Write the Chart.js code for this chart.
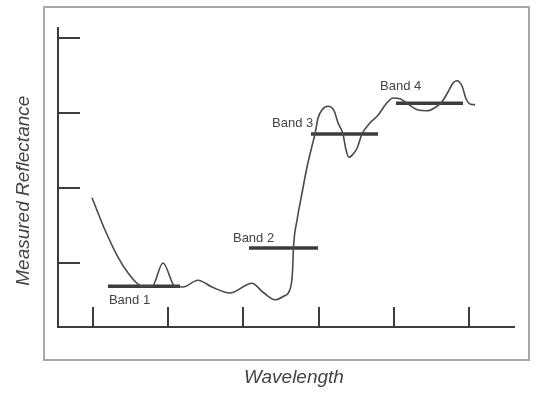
<!DOCTYPE html>
<html>
<head>
<meta charset="utf-8">
<script src="https://cdn.jsdelivr.net/npm/chart.js@4"></script>
<style>
  html, body { margin: 0; padding: 0; background: #fff; }
</style>
</head>
<body>
<canvas id="reflectanceChart" width="537" height="393"></canvas>
<script>
// Spectral curve (wavelength, reflectance)
const curveX = [98.7, 116.0, 133.2, 146.5, 158.5, 165.2, 178.5, 193.1, 209.0, 219.7,
    239.6, 258.2, 282.2, 311.4, 326.1, 342.0, 354.0, 362.0, 365.3, 366.6,
    371.3, 377.9, 384.6, 391.2, 395.2, 399.2, 404.5, 412.5, 420.5, 425.8,
    432.4, 436.4, 440.4, 445.7, 451.1, 457.7, 468.4, 479.0, 489.6, 498.9,
    508.2, 518.9, 532.2, 544.1, 556.1, 564.1, 572.1, 578.7, 584.0, 590.7,
    596.0, 601.3, 608.0];
const curveY = [1.87, 1.44, 1.08, 0.87, 0.73, 0.69, 0.69, 1.00, 0.69, 0.68,
    0.77, 0.68, 0.60, 0.73, 0.61, 0.51, 0.56, 0.65, 0.88, 1.21,
    1.57, 1.93, 2.28, 2.56, 2.72, 2.93, 3.04, 3.09, 3.03, 2.87,
    2.72, 2.51, 2.41, 2.45, 2.53, 2.72, 2.87, 2.97, 3.12, 3.20,
    3.19, 3.12, 3.04, 3.03, 3.08, 3.15, 3.28, 3.40, 3.43, 3.36,
    3.19, 3.12, 3.11];

// Band averages: start / end wavelength and level
const bandNames = ['Band 1', 'Band 2', 'Band 3', 'Band 4'];
const bandStart = [119.9, 307.4, 389.9, 502.9];
const bandEnd = [215.7, 399.2, 479.0, 592.0];
const bandLevel = [0.69, 1.20, 2.72, 3.13];

// Axis ticks (no labels on the original)
const xTicks = [100, 200, 300, 400, 500, 600];
const yTicks = [1, 2, 3, 4];

const textFont = "'Liberation Sans', Arial, sans-serif";
const inkColor = '#3c3c3c';

// Build datasets
const datasets = [{
    data: curveX.map((x, i) => ({ x: x, y: curveY[i] })),
    borderColor: '#4a4a4a',
    borderWidth: 1.6,
    pointRadius: 0,
    cubicInterpolationMode: 'monotone'
}];
bandNames.forEach((name, i) => {
    datasets.push({
        label: name,
        data: [{ x: bandStart[i], y: bandLevel[i] }, { x: bandEnd[i], y: bandLevel[i] }],
        borderColor: inkColor,
        borderWidth: 3.5,
        borderCapStyle: 'butt',
        pointRadius: 0
    });
});

// Label offsets from the left end of each band line (pixels)
const labelOffsets = [[1, 14], [-16, -10], [-39, -11], [-16, -17]];

// Frame, inward tick marks and band labels
const decorPlugin = {
    id: 'decor',
    beforeDraw(chart) {
        const { ctx, chartArea: a } = chart;
        ctx.save();
        ctx.strokeStyle = '#a8a8a8';
        ctx.lineWidth = 2;
        ctx.strokeRect(a.left - 14, a.top - 21, a.right - a.left + 29, a.bottom - a.top + 54);
        ctx.restore();
    },
    afterDraw(chart) {
        const { ctx, chartArea: a, scales } = chart;
        ctx.save();
        ctx.strokeStyle = inkColor;
        ctx.lineWidth = 2;
        ctx.beginPath();
        scales.y.ticks.forEach(t => {
            const py = Math.round(scales.y.getPixelForValue(t.value));
            ctx.moveTo(a.left, py);
            ctx.lineTo(a.left + 22, py);
        });
        scales.x.ticks.forEach(t => {
            const px = Math.round(scales.x.getPixelForValue(t.value));
            ctx.moveTo(px, a.bottom);
            ctx.lineTo(px, a.bottom - 20);
        });
        ctx.stroke();

        ctx.fillStyle = '#444';
        ctx.font = '13px ' + textFont;
        ctx.textAlign = 'left';
        ctx.textBaseline = 'middle';
        bandNames.forEach((name, i) => {
            const px = scales.x.getPixelForValue(bandStart[i]);
            const py = scales.y.getPixelForValue(bandLevel[i]);
            ctx.fillText(name, px + labelOffsets[i][0], py + labelOffsets[i][1]);
        });
        ctx.restore();
    }
};

const ctx = document.getElementById('reflectanceChart').getContext('2d');
const reflectanceChart = new Chart(ctx, {
    type: 'line',
    data: { datasets: datasets },
    options: {
        responsive: false,
        animation: false,
        devicePixelRatio: 1,
        layout: { padding: { top: 28, right: 23, left: 12, bottom: 4 } },
        plugins: { legend: { display: false }, tooltip: { enabled: false } },
        scales: {
            x: {
                type: 'linear',
                min: 53.5,
                max: 659.8,
                afterBuildTicks: s => { s.ticks = xTicks.map(v => ({ value: v })); },
                ticks: { display: false },
                grid: { display: false, drawTicks: false },
                border: { display: true, color: inkColor, width: 2 },
                title: {
                    display: true,
                    // leading spaces nudge the title right, as in the original
                    text: '   Wavelength',
                    color: '#444',
                    font: { family: textFont, size: 19, style: 'italic' },
                    padding: { top: 39.2, bottom: 0 }
                }
            },
            y: {
                type: 'linear',
                min: 0.147,
                max: 4.133,
                afterBuildTicks: s => { s.ticks = yTicks.map(v => ({ value: v })); },
                ticks: { display: false },
                grid: { display: false, drawTicks: false },
                border: { display: true, color: inkColor, width: 2 },
                title: {
                    display: true,
                    // trailing spaces nudge the title down, as in the original
                    text: 'Measured Reflectance     ',
                    color: '#444',
                    font: { family: textFont, size: 19, style: 'italic' },
                    padding: { top: 0, bottom: 23.2 }
                }
            }
        }
    },
    plugins: [decorPlugin]
});
</script>
</body>
</html>
